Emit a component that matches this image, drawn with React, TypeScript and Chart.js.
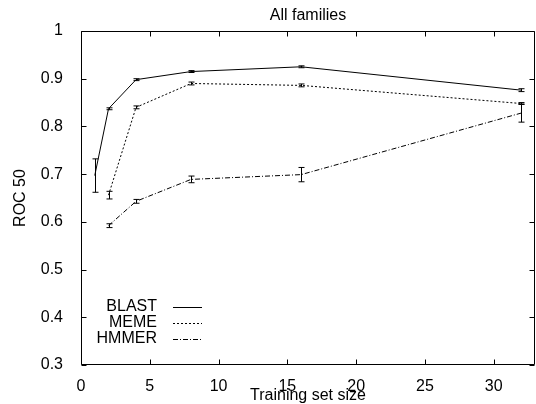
import React, { useEffect, useRef } from 'react';
import { Chart, registerables } from 'chart.js';
Chart.register(...registerables);

const chartTitle = 'All families';
const xTitle = 'Training set size';
const yTitle = 'ROC 50';

const blastSizes = [1, 2, 4, 8, 16, 32];
const blastMean = [0.697, 0.837, 0.898, 0.915, 0.925, 0.876];
const blastErr = [0.035, 0.002, 0.002, 0.002, 0.002, 0.003];

const memeSizes = [2, 4, 8, 16, 32];
const memeMean = [0.656, 0.840, 0.890, 0.886, 0.848];
const memeErr = [0.008, 0.003, 0.003, 0.003, 0.002];

const hmmerSizes = [2, 4, 8, 16, 32];
const hmmerMean = [0.592, 0.643, 0.689, 0.699, 0.828];
const hmmerErr = [0.004, 0.004, 0.007, 0.015, 0.019];

const seriesNames = ['BLAST', 'MEME', 'HMMER'];
const seriesDash: number[][] = [[], [2, 2], [5, 2, 1, 2]];

const FONT = '"Liberation Sans", Arial, Helvetica, sans-serif';

export default function App() {
  const ref = useRef<HTMLCanvasElement | null>(null);
  useEffect(() => {
    if (!ref.current) return;
    const mk = (xs: number[], ys: number[]) => xs.map((x, i) => ({ x, y: ys[i] }));
    const errs = [blastErr, memeErr, hmmerErr];
    const means = [blastMean, memeMean, hmmerMean];

    const decor = {
      id: 'decor',
      afterDatasetsDraw(chart: any) {
        const ctx = chart.ctx;
        const ys = chart.scales.y;
        ctx.save();
        ctx.strokeStyle = '#000';
        ctx.lineWidth = 1;
        ctx.setLineDash([]);
        chart.data.datasets.forEach((ds: any, i: number) => {
          const meta = chart.getDatasetMeta(i);
          meta.data.forEach((pt: any, j: number) => {
            const m = means[i][j];
            const e = errs[i][j];
            const x = Math.round(pt.x) + 0.5;
            const y1 = ys.getPixelForValue(m + e);
            const y2 = ys.getPixelForValue(m - e);
            ctx.beginPath();
            ctx.moveTo(x, y1);
            ctx.lineTo(x, y2);
            ctx.moveTo(x - 3, y1);
            ctx.lineTo(x + 3, y1);
            ctx.moveTo(x - 3, y2);
            ctx.lineTo(x + 3, y2);
            ctx.stroke();
          });
        });
        ctx.restore();
      },
      afterDraw(chart: any) {
        const ctx = chart.ctx;
        const a = chart.chartArea;
        const xs = chart.scales.x;
        const ys = chart.scales.y;
        ctx.save();
        ctx.strokeStyle = '#000';
        ctx.lineWidth = 1;
        ctx.setLineDash([]);
        const L = Math.round(a.left) + 0.5;
        const R = Math.round(a.right) - 0.5;
        const T = Math.round(a.top) + 0.5;
        const B = Math.round(a.bottom) - 0.5;
        ctx.beginPath();
        ctx.rect(L, T, R - L, B - T);
        ctx.stroke();
        ctx.beginPath();
        xs.ticks.forEach((t: any) => {
          const x = Math.round(xs.getPixelForValue(t.value)) + 0.5;
          ctx.moveTo(x, B);
          ctx.lineTo(x, B - 5);
          ctx.moveTo(x, T);
          ctx.lineTo(x, T + 5);
        });
        ys.ticks.forEach((t: any) => {
          const y = Math.round(ys.getPixelForValue(t.value)) + 0.5;
          ctx.moveTo(L, y);
          ctx.lineTo(L + 5, y);
          ctx.moveTo(R, y);
          ctx.lineTo(R - 5, y);
        });
        ctx.stroke();

        ctx.fillStyle = '#000';
        ctx.font = `16px ${FONT}`;
        ctx.textAlign = 'center';
        ctx.textBaseline = 'middle';
        ctx.fillText(chartTitle, (a.left + a.right) / 2, 16);
        ctx.fillText(xTitle, (a.left + a.right) / 2, 396);
        ctx.save();
        ctx.translate(21, (a.top + a.bottom) / 2);
        ctx.rotate(-Math.PI / 2);
        ctx.fillText(yTitle, 0, 0);
        ctx.restore();

        // legend
        const rowY = [307, 323, 339];
        seriesNames.forEach((n, i) => {
          ctx.textAlign = 'right';
          ctx.textBaseline = 'middle';
          ctx.fillText(n, 157, rowY[i]);
          ctx.beginPath();
          ctx.setLineDash(seriesDash[i]);
          ctx.moveTo(173, rowY[i] + 0.5);
          ctx.lineTo(202, rowY[i] + 0.5);
          ctx.stroke();
        });
        ctx.restore();
      },
    };

    const chart = new Chart(ref.current, {
      type: 'scatter',
      data: {
        datasets: [
          { label: seriesNames[0], data: mk(blastSizes, blastMean), showLine: true, borderColor: '#000', borderWidth: 1, borderDash: seriesDash[0], pointRadius: 0, backgroundColor: '#000' },
          { label: seriesNames[1], data: mk(memeSizes, memeMean), showLine: true, borderColor: '#000', borderWidth: 1, borderDash: seriesDash[1], pointRadius: 0, backgroundColor: '#000' },
          { label: seriesNames[2], data: mk(hmmerSizes, hmmerMean), showLine: true, borderColor: '#000', borderWidth: 1, borderDash: seriesDash[2], pointRadius: 0, backgroundColor: '#000' },
        ],
      },
      options: {
        responsive: false,
        animation: false,
        layout: { padding: { top: 31, right: 1, left: 0, bottom: 0 } },
        plugins: { legend: { display: false }, tooltip: { enabled: false }, title: { display: false } },
        scales: {
          x: {
            type: 'linear',
            min: 0,
            max: 33,
            grid: { display: false },
            border: { display: false },
            ticks: { stepSize: 5, color: '#000', font: { family: FONT, size: 16 }, padding: 4, maxRotation: 0, autoSkip: false },
            afterBuildTicks: (s: any) => { s.ticks = s.ticks.filter((t: any) => t.value % 5 === 0); },
            afterFit: (s: any) => { s.height = 39; },
          },
          y: {
            type: 'linear',
            min: 0.3,
            max: 1,
            grid: { display: false },
            border: { display: false },
            ticks: {
              stepSize: 0.1,
              color: '#000',
              font: { family: FONT, size: 16 },
              padding: 10,
              callback: (v: any) => String(Number(Number(v).toFixed(1))),
            },
            afterFit: (s: any) => { s.width = 81; },
          },
        },
      },
      plugins: [decor],
    } as any);
    return () => chart.destroy();
  }, []);
  return (
    <div style={{ position: 'absolute', left: 0, top: 0, width: 536, height: 404, background: '#fff' }}>
      <canvas ref={ref} width={536} height={404} />
    </div>
  );
}
